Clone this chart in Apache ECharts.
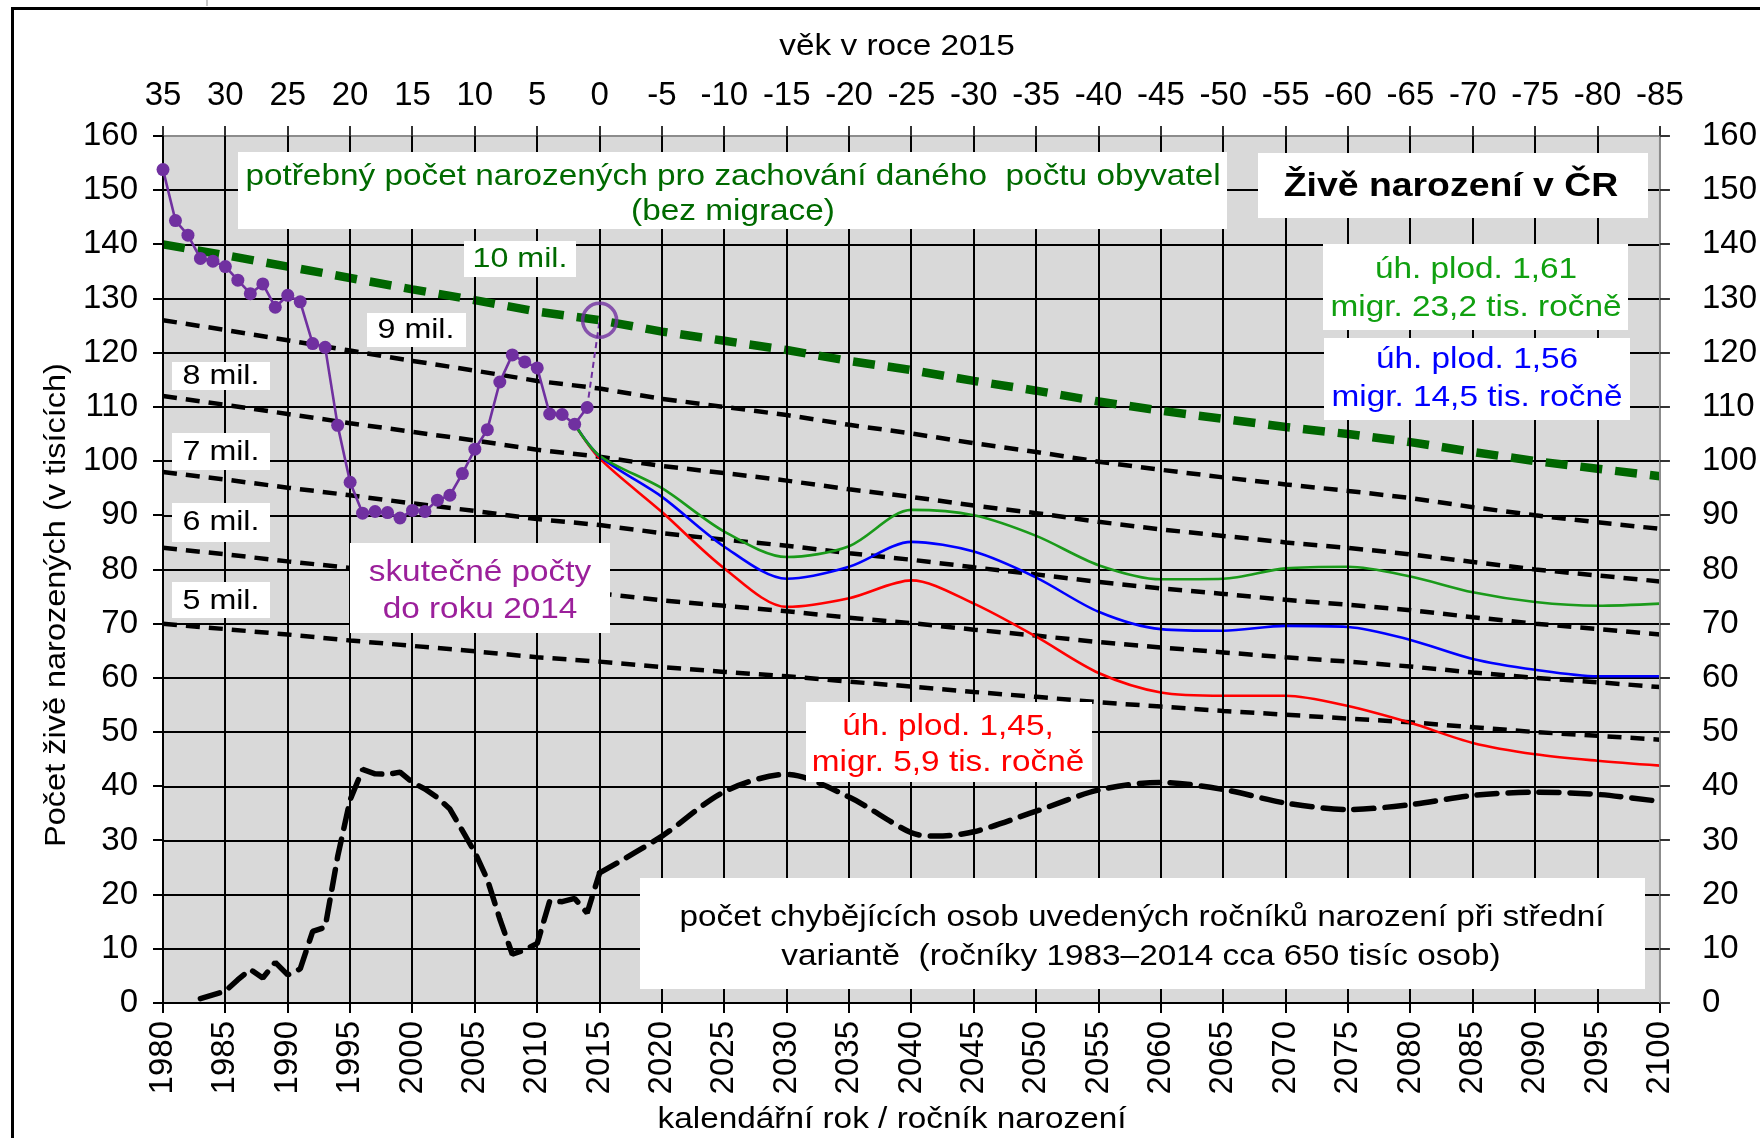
<!DOCTYPE html>
<html>
<head>
<meta charset="utf-8">
<script src="https://cdn.jsdelivr.net/npm/echarts@6/dist/echarts.min.js"></script>
<style>
html, body { margin: 0; padding: 0; background: #fff; }
#main { width: 1760px; height: 1138px; }
</style>
</head>
<body>
<div id="main"></div>
<script>
var chartDom = document.getElementById('main');
var myChart = echarts.init(chartDom);
var option;

var FONT = '"Liberation Sans", Arial, sans-serif';

// skutečné počty živě narozených (tis.)
var birthYears = [1980, 1981, 1982, 1983, 1984, 1985, 1986, 1987, 1988, 1989,
    1990, 1991, 1992, 1993, 1994, 1995, 1996, 1997, 1998, 1999,
    2000, 2001, 2002, 2003, 2004, 2005, 2006, 2007, 2008, 2009,
    2010, 2011, 2012, 2013, 2014];
var births = [153.8, 144.4, 141.7, 137.4, 136.9, 135.9, 133.4, 130.9, 132.7, 128.4,
    130.6, 129.4, 121.7, 121.0, 106.6, 96.1, 90.4, 90.7, 90.5, 89.5,
    90.9, 90.7, 92.8, 93.7, 97.7, 102.2, 105.8, 114.6, 119.6, 118.3,
    117.2, 108.7, 108.6, 106.8, 109.9];

// spojnice 2014 -> potřebný počet 2015
var linkYears = [2014, 2015];
var linkValues = [109.9, 126.0];

// potřebný počet narozených pro daný počet obyvatel
var needYears = [1980, 1985, 1990, 1995, 2000, 2005, 2010, 2015, 2020, 2025, 2030, 2035, 2040,
    2045, 2050, 2055, 2060, 2065, 2070, 2075, 2080, 2085, 2090, 2095, 2100];
var need10 = [140, 138, 135.9, 133.8, 131.7, 129.7, 127.6, 126, 123.9, 122.2, 120.5, 118.5, 116.8,
    114.8, 113, 111, 109.3, 107.8, 106.3, 105, 103.5, 101.7, 100, 98.6, 97.2];
var need9 = [126, 124.2, 122.3, 120.4, 118.5, 116.7, 114.8, 113.4, 111.5, 110, 108.5, 106.7, 105.1,
    103.3, 101.7, 99.9, 98.4, 97, 95.7, 94.5, 93.2, 91.5, 90, 88.7, 87.5];
var need8 = [112, 110.4, 108.7, 107, 105.4, 103.8, 102.1, 100.8, 99.1, 97.8, 96.4, 94.8, 93.4,
    91.8, 90.4, 88.8, 87.4, 86.2, 85, 84, 82.8, 81.4, 80, 78.9, 77.8];
var need7 = [98, 96.6, 95.1, 93.7, 92.2, 90.8, 89.3, 88.2, 86.7, 85.5, 84.4, 83, 81.8,
    80.4, 79.1, 77.7, 76.5, 75.5, 74.4, 73.5, 72.5, 71.2, 70, 69, 68];
var need6 = [84, 82.8, 81.5, 80.3, 79, 77.8, 76.6, 75.6, 74.3, 73.3, 72.3, 71.1, 70.1,
    68.9, 67.8, 66.6, 65.6, 64.7, 63.8, 63, 62.1, 61, 60, 59.2, 58.3];
var need5 = [70, 69, 68, 66.9, 65.9, 64.9, 63.8, 63, 62, 61.1, 60.3, 59.3, 58.4,
    57.4, 56.5, 55.5, 54.7, 53.9, 53.2, 52.5, 51.8, 50.9, 50, 49.3, 48.6];

// projekce
var projYears = [2013, 2015, 2020, 2025, 2030, 2035, 2040, 2045, 2050, 2055,
    2060, 2065, 2070, 2075, 2080, 2085, 2090, 2095, 2100];
var projHigh = [106.8, 101.0, 95.0, 87.0, 82.3, 84.3, 91.0, 90.0, 86.2, 80.8,
    78.2, 78.3, 80.2, 80.5, 78.7, 75.8, 74.0, 73.3, 73.7];
var projMid = [106.8, 100.9, 93.4, 84.2, 78.3, 80.5, 85.1, 83.3, 78.5, 72.2,
    69.0, 68.7, 69.6, 69.4, 67.0, 63.5, 61.5, 60.3, 60.3];
var projLow = [106.8, 100.5, 90.6, 80.2, 73.1, 74.7, 78.0, 73.7, 67.6, 60.9,
    57.3, 56.7, 56.7, 54.8, 51.7, 48.0, 45.9, 44.7, 43.8];

// počet chybějících osob
var missYearsPast = [1983, 1984, 1985, 1986, 1987, 1988, 1989, 1990, 1991, 1992,
    1993, 1994, 1995, 1996, 1997, 1998, 1999, 2000, 2001, 2002,
    2003, 2004, 2005, 2006, 2007, 2008, 2009, 2010, 2011, 2012,
    2013, 2014, 2015];
var missPast = [0.8, 1.5, 2.2, 4.3, 6.2, 4.6, 7.5, 5.2, 6.3, 13.2,
    14.0, 27.0, 37.5, 43.1, 42.3, 42.2, 42.6, 40.7, 39.5, 37.9,
    35.8, 31.8, 27.8, 22.8, 15.5, 9.0, 9.8, 11.0, 18.8, 18.7,
    19.3, 16.6, 24.0];
var missYearsProj = [2015, 2020, 2025, 2030, 2035, 2040, 2042, 2045, 2050, 2055,
    2060, 2065, 2070, 2075, 2080, 2085, 2090, 2095, 2100];
var missProj = [24.0, 30.8, 39.0, 42.2, 38.0, 31.4, 30.8, 31.6, 35.4, 39.3,
    40.7, 39.4, 36.9, 35.7, 36.6, 38.3, 38.9, 38.5, 37.2];

// značky os
var tickYears = [1980, 1985, 1990, 1995, 2000, 2005, 2010, 2015, 2020, 2025, 2030, 2035, 2040,
    2045, 2050, 2055, 2060, 2065, 2070, 2075, 2080, 2085, 2090, 2095, 2100];
var tickVals = [0, 10, 20, 30, 40, 50, 60, 70, 80, 90, 100, 110, 120, 130, 140, 150, 160];
var yMin = 0, yMax = 160;

function pairs(xs, ys) {
    return xs.map(function (x, i) { return [x, ys[i]]; });
}

function needLine(vals, color, width, dash) {
    return {
        type: 'line',
        data: pairs(needYears, vals),
        showSymbol: false,
        lineStyle: { color: color, width: width, type: dash },
        z: 3,
        silent: true
    };
}

function projLine(vals, color) {
    return {
        type: 'line',
        data: pairs(projYears, vals),
        showSymbol: false,
        smooth: 0.3,
        lineStyle: { color: color, width: 2.6 },
        z: 5,
        silent: true
    };
}

// šedé pozadí plochy grafu
function renderBack(params, api) {
    var p0 = api.coord([tickYears[0], yMax]);
    var p1 = api.coord([tickYears[tickYears.length - 1], yMin]);
    return {
        type: 'rect',
        shape: { x: p0[0], y: p0[1], width: p1[0] - p0[0], height: p1[1] - p0[1] },
        style: { fill: '#d9d9d9', stroke: '#8c8c8c', lineWidth: 2 }
    };
}

// svislá mřížka + značky na horní a dolní ose
function renderXGrid(params, api) {
    var yr = api.value(0);
    var pTop = api.coord([yr, yMax]);
    var pBot = api.coord([yr, yMin]);
    var x = Math.round(pTop[0]);
    var last = yr === tickYears[tickYears.length - 1];
    return {
        type: 'group',
        children: [
            { type: 'rect', shape: { x: x - 1, y: pTop[1], width: 2, height: pBot[1] - pTop[1] },
              style: { fill: last ? '#8c8c8c' : '#000' } },
            { type: 'rect', shape: { x: x - 1, y: pBot[1], width: 2, height: 10 },
              style: { fill: '#000' } },
            { type: 'rect', shape: { x: x - 1, y: pTop[1] - 10, width: 2, height: 10 },
              style: { fill: '#333' } }
        ]
    };
}

// značky na levé a pravé ose
function renderYTicks(params, api) {
    var v = api.value(1);
    var pL = api.coord([tickYears[0], v]);
    var pR = api.coord([tickYears[tickYears.length - 1], v]);
    var y = Math.round(pL[1]);
    return {
        type: 'group',
        children: [
            { type: 'rect', shape: { x: pL[0] - 10, y: y - 1, width: 10, height: 2 },
              style: { fill: '#000' } },
            { type: 'rect', shape: { x: pR[0], y: y - 1, width: 10, height: 2 },
              style: { fill: '#333' } }
        ]
    };
}

// bílé rámečky s textem
function box(x1, y1, x2, y2) {
    return {
        type: 'rect',
        shape: { x: x1, y: y1, width: x2 - x1, height: y2 - y1 },
        style: { fill: '#fff' },
        z: 100
    };
}

function txt(x, y, text, color, size, bold, sx) {
    return {
        type: 'text',
        x: x,
        y: y,
        scaleX: sx || 1.15,
        style: {
            text: text,
            fill: color,
            font: (bold ? 'bold ' : '') + size + 'px ' + FONT,
            textAlign: 'center',
            textVerticalAlign: 'middle',
            align: 'center',
            verticalAlign: 'middle'
        },
        z: 101
    };
}

var DKGREEN = '#006a00';
var GREEN = '#1a9a1a';
var PURPLE = '#7030a0';

var graphics = [
    // vnější rámeček
    { type: 'rect', shape: { x: 11, y: 7, width: 1760, height: 3 }, style: { fill: '#000' }, z: 90 },
    { type: 'rect', shape: { x: 11, y: 7, width: 3, height: 1140 }, style: { fill: '#000' }, z: 90 },
    { type: 'rect', shape: { x: 206, y: 0, width: 2, height: 6 }, style: { fill: '#c8c8c8' }, z: 90 },

    // názvy os
    txt(897, 47, 'věk v roce 2015', '#000', 29),
    txt(892, 1120, 'kalendářní rok / ročník narození', '#000', 29),
    { type: 'text', x: 57, y: 605, rotation: Math.PI / 2, scaleX: 1.12,
      style: { text: 'Počet živě narozených (v tisících)', fill: '#000', font: '29px ' + FONT,
               textAlign: 'center', textVerticalAlign: 'middle', align: 'center', verticalAlign: 'middle' },
      z: 101 },

    box(238, 152, 1227, 229),
    txt(733, 177, 'potřebný počet narozených pro zachování daného  počtu obyvatel', DKGREEN, 29),
    txt(733, 212, '(bez migrace)', DKGREEN, 29),

    box(1258, 153, 1648, 218),
    txt(1451, 187, 'Živě narození v ČR', '#000', 34, true, 1.1),

    box(1323, 244, 1628, 330),
    txt(1476, 270, 'úh. plod. 1,61', '#10a010', 29),
    txt(1476, 308, 'migr. 23,2 tis. ročně', '#10a010', 29),

    box(1324, 338, 1630, 420),
    txt(1477, 360, 'úh. plod. 1,56', '#0000ff', 29),
    txt(1477, 398, 'migr. 14,5 tis. ročně', '#0000ff', 29),

    box(806, 702, 1092, 782),
    txt(948, 727, 'úh. plod. 1,45,', '#ff0000', 29),
    txt(948, 763, 'migr. 5,9 tis. ročně', '#ff0000', 29),

    box(350, 543, 610, 633),
    txt(480, 573, 'skutečné počty', '#9b209b', 29),
    txt(480, 610, 'do roku 2014', '#9b209b', 29),

    box(640, 878, 1645, 989),
    txt(1142, 918, 'počet chybějících osob uvedených ročníků narození při střední', '#000', 29),
    txt(1141, 957, 'variantě  (ročníky 1983–2014 cca 650 tisíc osob)', '#000', 29),

    box(464, 241, 576, 277), txt(520, 259, '10 mil.', DKGREEN, 28),
    box(367, 313, 466, 347), txt(416, 330, '9 mil.', '#000', 28),
    box(172, 362, 270, 390), txt(221, 376, '8 mil.', '#000', 28),
    box(172, 433, 270, 470), txt(221, 452, '7 mil.', '#000', 28),
    box(172, 503, 270, 542), txt(221, 522, '6 mil.', '#000', 28),
    box(172, 582, 270, 618), txt(221, 601, '5 mil.', '#000', 28)
];

var labelFont = { fontFamily: FONT, fontSize: 33, color: '#000' };

var series = [
    {
        type: 'custom',
        data: [[tickYears[0], yMin]],
        renderItem: renderBack,
        clip: false,
        z: 0,
        silent: true
    },
    {
        type: 'custom',
        data: tickYears.map(function (y) { return [y, yMin]; }),
        renderItem: renderXGrid,
        clip: false,
        z: 8,
        silent: true
    },
    {
        type: 'custom',
        data: tickVals.map(function (v) { return [tickYears[0], v]; }),
        renderItem: renderYTicks,
        clip: false,
        z: 8,
        silent: true
    },
    needLine(need9, '#000', 4.5, [14, 9]),
    needLine(need8, '#000', 4.5, [14, 9]),
    needLine(need7, '#000', 4.5, [14, 9]),
    needLine(need6, '#000', 4.5, [14, 9]),
    needLine(need5, '#000', 4.5, [14, 9]),
    needLine(need10, '#006600', 8.5, [22, 13]),
    {
        type: 'line',
        data: pairs(missYearsPast, missPast),
        showSymbol: false,
        lineStyle: { color: '#000', width: 5.5, type: [20, 11], cap: 'round' },
        z: 4,
        silent: true
    },
    {
        type: 'line',
        data: pairs(missYearsProj, missProj),
        showSymbol: false,
        smooth: 0.3,
        lineStyle: { color: '#000', width: 5.5, type: [20, 11], cap: 'round' },
        z: 4,
        silent: true
    },
    projLine(projLow, '#ff0000'),
    projLine(projMid, '#0000ff'),
    projLine(projHigh, GREEN),
    {
        type: 'line',
        data: pairs(linkYears, linkValues),
        showSymbol: false,
        lineStyle: { color: PURPLE, width: 2, type: [6, 4] },
        z: 6,
        silent: true
    },
    {
        type: 'line',
        data: pairs(birthYears, births),
        symbol: 'circle',
        symbolSize: 13,
        itemStyle: { color: PURPLE },
        lineStyle: { color: PURPLE, width: 2.6 },
        z: 9,
        silent: true
    },
    {
        type: 'scatter',
        data: [[linkYears[1], linkValues[1]]],
        symbol: 'circle',
        symbolSize: 34,
        itemStyle: { color: 'rgba(0,0,0,0)', borderColor: PURPLE, borderWidth: 3.5 },
        z: 9,
        silent: true
    }
];

option = {
    animation: false,
    backgroundColor: '#fff',
    grid: {
        left: 163, right: 100, top: 136, bottom: 135,
        show: false
    },
    xAxis: [{
        type: 'value',
        min: 1980, max: 2100, interval: 5,
        position: 'bottom',
        axisLine: { show: true, onZero: false, lineStyle: { color: '#000', width: 2 } },
        axisTick: { show: false },
        splitLine: { show: false },
        axisLabel: Object.assign({
            rotate: 90, margin: 18,
            formatter: function (v) { return String(v); }
        }, labelFont)
    }, {
        type: 'value',
        min: 1980, max: 2100, interval: 5,
        position: 'top',
        axisLine: { show: false },
        axisTick: { show: false },
        splitLine: { show: false },
        axisLabel: Object.assign({
            margin: 24,
            formatter: function (v) { return String(2015 - v); }
        }, labelFont)
    }],
    yAxis: [{
        type: 'value',
        z: 1,
        min: yMin, max: yMax, interval: 10,
        position: 'left',
        axisLine: { show: true, lineStyle: { color: '#000', width: 2 } },
        axisTick: { show: false },
        splitLine: { show: true, showMaxLine: false, lineStyle: { color: '#000', width: 2 } },
        axisLabel: Object.assign({ margin: 25 }, labelFont)
    }, {
        type: 'value',
        min: yMin, max: yMax, interval: 10,
        position: 'right',
        axisLine: { show: false },
        axisTick: { show: false },
        splitLine: { show: false },
        axisLabel: Object.assign({ margin: 42 }, labelFont)
    }],
    graphic: graphics,
    series: series
};

option && myChart.setOption(option);
</script>
</body>
</html>
